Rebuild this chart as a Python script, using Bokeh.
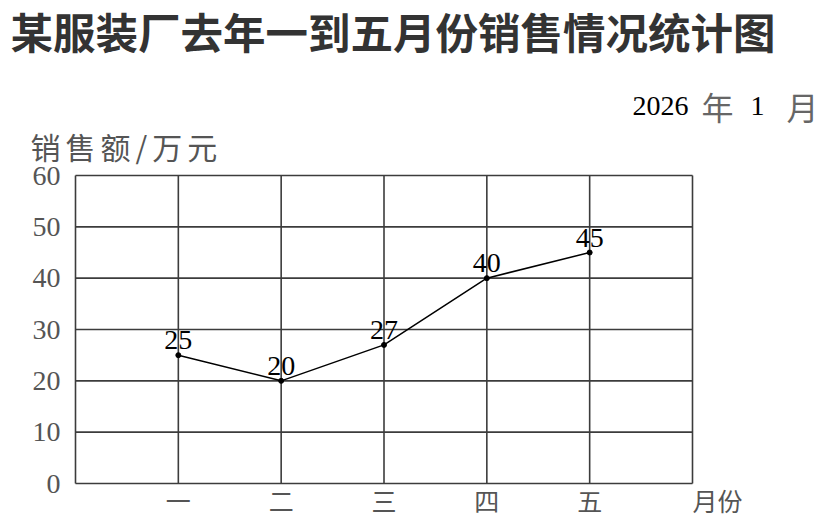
from bokeh.plotting import figure
from bokeh.models import Range1d, ColumnDataSource, FixedTicker, LabelSet, Label
from bokeh.embed import file_html
from bokeh.resources import INLINE

months = ["一", "二", "三", "四", "五"]
month_pos = [1, 2, 3, 4, 5]
sales = [25, 20, 27, 40, 45]
y_ticks = [0, 10, 20, 30, 40, 50, 60]
x_lines = [0, 1, 2, 3, 4, 5, 6]

title_text = "某服装厂去年一到五月份销售情况统计图"
y_title = "\u2006".join("销售额/万元")
x_title = "月份"
year_text, year_unit, month_text, month_unit = "2026", "年", "1", "月"

serif = "Liberation Serif"
cjk = "Noto Sans CJK SC"

# canvas layout (pixels): the 0..6 x 0..60 box sits at x 75..692, y 175..483
W, H = 826, 522
L, R, T, B = 75, 692, 175, 483
XMAX, YMAX = x_lines[-1], y_ticks[-1]
SX = (R - L) / XMAX
SY = (B - T) / YMAX
def px(v):
    return (v - L) / SX
def py(v):
    return (B - v) / SY

p = figure(width=W, height=H, output_backend="svg", toolbar_location=None,
           x_range=Range1d(px(0), px(W)), y_range=Range1d(py(H), py(0)),
           min_border=0)
p.background_fill_color = "white"
p.border_fill_color = "white"
p.outline_line_color = None
p.grid.visible = False

# grid box drawn from the tick arrays, limited to the 0..6 x 0..60 box
grid_color = "#3c3c3c"
p.segment(x0=x_lines, y0=[0] * len(x_lines), x1=x_lines, y1=[YMAX] * len(x_lines),
          line_color=grid_color, line_width=1.6)
p.segment(x0=[0] * len(y_ticks), y0=y_ticks, x1=[XMAX] * len(y_ticks), y1=y_ticks,
          line_color=grid_color, line_width=1.6)

p.yaxis.fixed_location = 0
p.yaxis.ticker = FixedTicker(ticks=y_ticks)
p.yaxis.axis_line_color = None
p.yaxis.major_tick_line_color = None
p.yaxis.minor_tick_line_color = None
p.yaxis.major_label_text_font = serif
p.yaxis.major_label_text_font_size = "28px"
p.yaxis.major_label_text_color = "#555555"
p.yaxis.major_label_standoff = 9

x_ticks = month_pos + [XMAX]
labels = months + ["\u3000\u3000" + x_title]
p.xaxis.fixed_location = 0
p.xaxis.ticker = FixedTicker(ticks=x_ticks)
p.xaxis.major_label_overrides = {m: lab for m, lab in zip(x_ticks, labels)}
p.xaxis.axis_line_color = None
p.xaxis.major_tick_line_color = None
p.xaxis.minor_tick_line_color = None
p.xaxis.major_label_text_font = cjk
p.xaxis.major_label_text_font_size = "25px"
p.xaxis.major_label_text_color = "#555555"
p.xaxis.major_label_standoff = -8

src = ColumnDataSource(dict(x=month_pos, y=sales, t=[str(v) for v in sales]))
p.line("x", "y", source=src, line_color="black", line_width=1.5)
p.scatter("x", "y", source=src, size=5, color="black")
p.add_layout(LabelSet(x="x", y="y", text="t", source=src, y_offset=6,
                      text_align="center", text_baseline="bottom",
                      text_font=serif, text_font_size="28px", text_color="black"))

# titles
p.add_layout(Label(x=px(10), y=py(30), text=title_text, text_font=cjk, text_font_size="42.5px",
                   text_font_style="bold", text_color="#333333", text_baseline="middle"))
p.add_layout(Label(x=px(632), y=py(105), text=year_text, text_font=serif, text_font_size="28px",
                   text_color="black", text_baseline="middle"))
p.add_layout(Label(x=px(717), y=py(105), text=year_unit, text_font=cjk, text_font_size="32px",
                   text_color="#666666", text_baseline="middle", text_align="center"))
p.add_layout(Label(x=px(757), y=py(105), text=month_text, text_font=serif, text_font_size="28px",
                   text_color="black", text_baseline="middle", text_align="center"))
p.add_layout(Label(x=px(802), y=py(105), text=month_unit, text_font=cjk, text_font_size="32px",
                   text_color="#666666", text_baseline="middle", text_align="center"))
p.add_layout(Label(x=px(30), y=py(145), text=y_title, text_font=cjk, text_font_size="30px",
                   text_color="#555555", text_baseline="middle"))

open("out.html", "w").write(file_html(p, INLINE))
